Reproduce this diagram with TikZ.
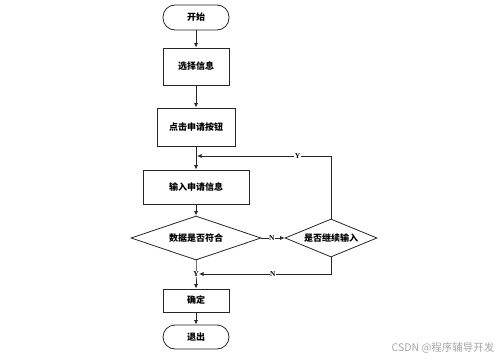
\documentclass[tikz,border=0pt]{standalone}
\usepackage{fontspec}
\setmainfont{Liberation Serif}
\newfontfamily\cjk{Noto Sans CJK SC}
\usetikzlibrary{arrows.meta,shapes.geometric}
\tikzset{
  box/.style={draw=black!85, line width=0.8pt, minimum width=66pt, minimum height=37pt, font=\cjk\bfseries\fontsize{9}{10}\selectfont, inner sep=1pt},
  term/.style={box, rounded corners=12pt, minimum height=25pt},
  decision/.style={draw=black!85, line width=0.8pt, diamond, aspect=2.9, inner sep=1pt, font=\cjk\bfseries\fontsize{9}{10}\selectfont},
  flow/.style={-{Latex[length=4.5pt,width=4pt]}, line width=0.8pt, draw=black!85},
  yn/.style={fill=white, inner sep=0.5pt, font=\bfseries\fontsize{7.5}{8}\selectfont}
}
\begin{document}
\begin{tikzpicture}[x=1pt,y=-1pt]
            \useasboundingbox (0,0) rectangle (500,361);
            \node[term] (start) at (196,17.5) {开始};
            \node[box] (select) at (196,66.5) {选择信息};
            \node[box, minimum width=78pt, minimum height=38pt] (click) at (196,127) {点击申请按钮};
            \node[box, minimum width=106pt, minimum height=34pt] (input) at (196,187) {输入申请信息};
            \node[decision, minimum width=130pt, minimum height=44pt] (check) at (196,238) {数据是否符合};
            \node[decision, minimum width=92pt, minimum height=38pt, aspect=2.4] (again) at (331,238) {是否继续输入};
            \node[box, minimum height=23pt] (ok) at (196,300.5) {确定};
            \node[term, minimum height=24pt] (quit) at (196,337) {退出};
            \coordinate (loop) at (196,156);
            \coordinate (join) at (196,274);
            
            \draw[flow] (start) -- (select);
            \draw[flow] (select) -- (click);
            \draw[flow] (click) -- (input);
            \draw[flow] (input) -- (check);
            \draw[flow] (check) -- node[yn, pos=0.45]{N} (again);
            \draw[flow] (again.north) |- node[yn, pos=0.625]{Y} ([xshift=1pt]loop);
            \draw[flow] (again.south) |- node[yn, pos=0.72]{N} ([xshift=3pt]join);
            \draw[flow] (check) -- (join) node[yn]{Y} -- (ok);
            \draw[flow] (ok) -- (quit);
            
            \node[text=gray!70, font=\cjk\fontsize{10.5}{12}\selectfont, anchor=east] (mark) at (498,348) {CSDN @程序辅导开发};
        \end{tikzpicture}
\end{document}
